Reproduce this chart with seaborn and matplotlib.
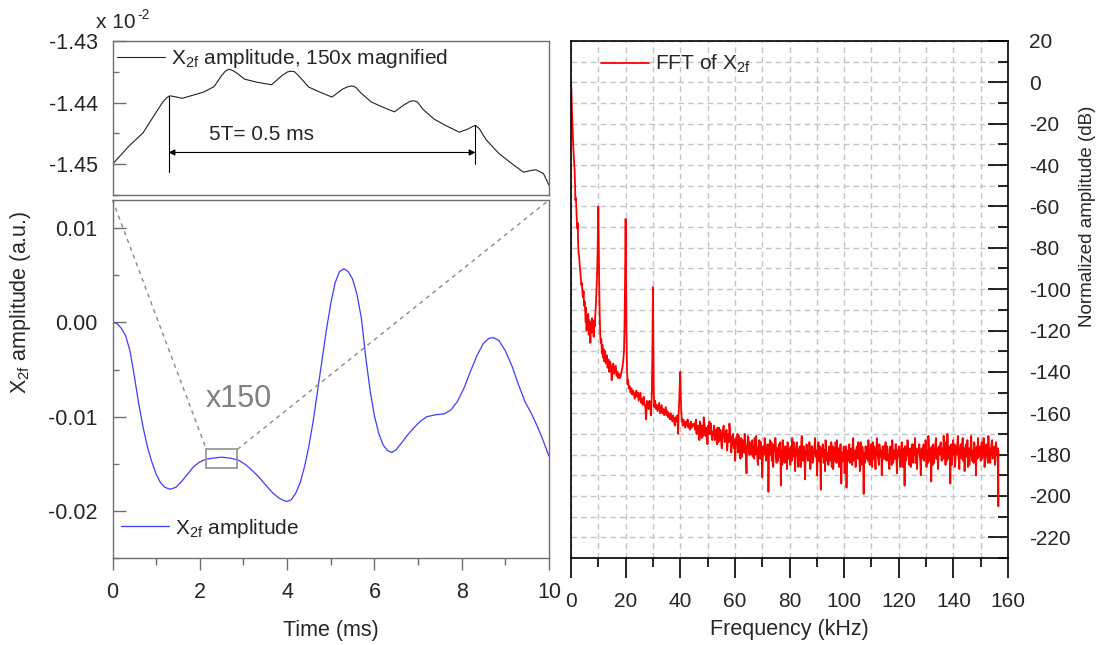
import numpy as np
import pandas as pd
import matplotlib
matplotlib.use('Agg')
import matplotlib.pyplot as plt
import seaborn as sns
from matplotlib.ticker import MultipleLocator, FuncFormatter
from matplotlib.patches import Rectangle

# ---------------- data ----------------
# main X2f amplitude trace (time in ms, amplitude a.u.)
time_ms = [0.00, 0.10, 0.20, 0.30, 0.40, 0.50, 0.60, 0.70, 0.80, 0.90,
           1.00, 1.10, 1.20, 1.32, 1.45, 1.58, 1.72, 1.86, 2.00, 2.15,
           2.30, 2.50, 2.70, 2.88, 3.05, 3.20, 3.35, 3.50, 3.65, 3.80,
           3.92, 4.00, 4.10, 4.20, 4.30, 4.40, 4.50, 4.60, 4.70, 4.80,
           4.90, 5.00, 5.10, 5.20, 5.30, 5.40, 5.50, 5.60, 5.70, 5.80,
           5.90, 6.00, 6.10, 6.20, 6.30, 6.40, 6.50, 6.62, 6.75, 6.90,
           7.05, 7.20, 7.40, 7.60, 7.75, 7.90, 8.05, 8.20, 8.35, 8.50,
           8.62, 8.72, 8.85, 9.00, 9.15, 9.30, 9.45, 9.60, 9.75, 9.88, 10.00]
x2f_amp = [0.0000, -0.0001, -0.0006, -0.0014, -0.0030, -0.0057, -0.0086, -0.0111, -0.0132, -0.0148,
           -0.0161, -0.0170, -0.0175, -0.0177, -0.0175, -0.0169, -0.0161, -0.0153, -0.0148, -0.0145,
           -0.0144, -0.0143, -0.0144, -0.0146, -0.0151, -0.0157, -0.0164, -0.0172, -0.0180, -0.0186,
           -0.0189, -0.0190, -0.0188, -0.0181, -0.0170, -0.0153, -0.0131, -0.0104, -0.0072, -0.0040,
           -0.0008, 0.0020, 0.0042, 0.0054, 0.0057, 0.0054, 0.0046, 0.0030, 0.0005, -0.0036,
           -0.0072, -0.0099, -0.0118, -0.0130, -0.0136, -0.0138, -0.0135, -0.0128, -0.0120, -0.0112,
           -0.0105, -0.0100, -0.0098, -0.0097, -0.0093, -0.0084, -0.0070, -0.0052, -0.0035, -0.0022,
           -0.0017, -0.0016, -0.0019, -0.0030, -0.0046, -0.0066, -0.0084, -0.0097, -0.0112, -0.0127, -0.0142]

# magnified detail (time in ms, amplitude in units of 1e-2)
inset_time = [2.150, 2.176, 2.199, 2.216, 2.230, 2.237, 2.242, 2.248, 2.262, 2.279, 2.296, 2.313,
              2.325, 2.331, 2.336, 2.341, 2.348, 2.362, 2.382, 2.405, 2.422, 2.431, 2.437, 2.442,
              2.448, 2.465, 2.485, 2.502, 2.519, 2.528, 2.534, 2.540, 2.548, 2.565, 2.585, 2.602,
              2.617, 2.627, 2.633, 2.639, 2.648, 2.666, 2.686, 2.706, 2.720, 2.727, 2.732, 2.738,
              2.749, 2.769, 2.789, 2.809, 2.822, 2.829, 2.841, 2.850]
inset_amp = [-1.4500, -1.4471, -1.4449, -1.4422, -1.4400, -1.4392, -1.4389, -1.4390, -1.4393, -1.4388,
             -1.4383, -1.4374, -1.4356, -1.4349, -1.4346, -1.4347, -1.4351, -1.4362, -1.4367, -1.4371,
             -1.4356, -1.4350, -1.4349, -1.4350, -1.4356, -1.4375, -1.4384, -1.4391, -1.4378, -1.4374,
             -1.4373, -1.4375, -1.4384, -1.4399, -1.4408, -1.4415, -1.4404, -1.4398, -1.4397, -1.4399,
             -1.4411, -1.4427, -1.4438, -1.4448, -1.4443, -1.4439, -1.4437, -1.4442, -1.4460, -1.4482,
             -1.4498, -1.4513, -1.4510, -1.4509, -1.4515, -1.4534]

# FFT of X2f, low-frequency part (kHz, dB)
fft_freq_low = [0.0, 0.15, 0.3, 0.5, 0.7, 0.9, 1.1, 1.3, 1.5, 1.6, 1.8, 1.9, 2.0, 2.2, 2.4, 2.5, 2.6, 2.8,
                3.0, 3.2, 3.4, 3.6, 3.8, 4.0, 4.2, 4.4, 4.6, 4.8, 5.0, 5.2, 5.4, 5.5, 5.7, 5.9, 6.1, 6.3,
                6.5, 6.7, 6.9, 7.1, 7.3, 7.5, 7.7, 7.9, 8.1, 8.3, 8.5, 8.7, 8.9, 9.1, 9.3, 9.5, 9.7, 9.85,
                10.0, 10.15, 10.3, 10.5, 10.7, 10.9, 11.1, 11.3, 11.5, 11.7, 11.9, 12.2, 12.5, 12.8, 13.1,
                13.4, 13.7, 14.0, 14.3, 14.6, 14.9, 15.2, 15.5, 15.8, 16.1, 16.4, 16.7, 17.0, 17.3, 17.6,
                17.9, 18.2, 18.5, 18.8, 19.1, 19.4, 19.6, 19.8, 20.0, 20.15, 20.3, 20.5, 20.7, 20.9, 21.2,
                21.5, 21.8, 22.1, 22.4, 22.7, 23.0, 23.3, 23.6, 23.9, 24.2, 24.5, 24.8, 25.1, 25.4, 25.7,
                26.0, 26.3, 26.6, 26.9, 27.2, 27.5, 27.8, 28.1, 28.4, 28.7, 29.0, 29.3, 29.6, 29.8, 30.0,
                30.15, 30.3, 30.5, 30.8, 31.1, 31.4, 31.7, 32.0, 32.3, 32.6, 32.9, 33.2, 33.5, 33.8, 34.1,
                34.4, 34.7, 35.0, 35.3, 35.6, 35.9, 36.2, 36.5, 36.8, 37.1, 37.4, 37.7, 38.0, 38.3, 38.6,
                38.9, 39.2, 39.4, 39.6, 39.8, 40.0, 40.2, 40.4, 40.6, 40.9, 41.2, 41.5, 41.8, 42.1, 42.4,
                42.7, 43.0, 43.3, 43.6, 43.9, 44.2, 44.5, 44.8]
fft_db_low = [0, -5, -12, -20, -27, -33, -38, -42, -50, -57, -56, -59, -63, -69, -71, -68, -78, -83,
              -84, -89, -91, -95, -98, -97, -102, -104, -101, -108, -106, -111, -116, -109, -120, -113, -118, -112,
              -122, -115, -119, -126, -116, -121, -114, -120, -117, -123, -115, -118, -112, -108, -101, -95, -85, -72,
              -60, -78, -95, -112, -122, -126, -124, -131, -127, -133, -129, -135, -130, -136, -132,
              -138, -134, -140, -135, -137, -144, -138, -136, -141, -139, -137, -142, -140, -143, -141,
              -143, -142, -140, -138, -135, -130, -118, -95, -66, -90, -120, -138, -146, -144, -148,
              -147, -150, -148, -151, -149, -150, -153, -151, -149, -152, -150, -154, -152, -150, -155,
              -153, -156, -152, -155, -157, -163, -154, -156, -158, -154, -157, -161, -150, -130, -99,
              -125, -150, -157, -154, -158, -156, -159, -157, -155, -160, -158, -156, -160, -158, -161,
              -159, -157, -161, -159, -162, -160, -163, -160, -162, -164, -161, -163, -166, -162, -164,
              -161, -170, -160, -155, -148, -140, -152, -160, -163, -166, -163, -165, -167, -164, -166,
              -163, -167, -165, -168, -164, -167, -166, -165]

# FFT noise floor, 45 - 156.3 kHz (dB), two interleaved evenly sampled series
fft_db_noise_a = [
    -165, -168, -163, -167, -170, -166, -164, -169, -172, -167, -162, -166, -171, -168, -175, -167, -164, -170, -168, -173,
    -170, -166, -172, -168, -175, -171, -167, -173, -170, -177, -169, -166, -174, -171, -168, -176, -172, -165, -173, -179,
    -174, -170, -177, -183, -172, -175, -179, -171, -176, -174, -181, -173, -177, -170, -178, -189, -175, -172, -180, -176,
    -179, -173, -176, -182, -178, -171, -177, -185, -175, -180, -174, -178, -183, -176, -172, -179, -181, -175, -198, -177,
    -180, -174, -179, -186, -176, -172, -181, -177, -183, -175, -179, -195, -178, -173, -180, -184, -176, -179, -174, -182,
    -177, -185, -179, -172, -181, -176, -188, -178, -174, -183, -179, -176, -186, -171, -180, -177, -184, -179, -175, -182,
    -178, -174, -187, -180, -176, -183, -179, -172, -181, -190, -177, -183, -176, -197, -180, -175, -184, -178, -173, -181,
    -179, -185, -176, -182, -174, -180, -187, -177, -183, -179, -173, -181, -186, -178, -175, -184, -180, -176, -189, -179,
    -196, -178, -183, -175, -181, -177, -185, -172, -180, -178, -184, -176, -182, -179, -188, -174, -181, -177, -199, -183,
    -176, -182, -178, -173, -184, -179, -175, -186, -180, -176, -183, -178, -172, -181, -185, -177, -180, -190, -176, -182,
    -179, -174, -183, -177, -181, -187, -176, -180, -173, -184, -178, -182, -175, -189, -179, -176, -183, -180, -174, -186,
    -178, -195, -176, -182, -173, -180, -185, -177, -181, -175, -184, -179, -172, -183, -187, -178, -176, -181, -190, -177,
    -182, -175, -180, -173, -186, -178, -171, -183, -177, -193, -180, -175, -184, -179, -172, -181, -187, -176, -180, -174,
    -183, -177, -171, -180, -185, -176, -170, -182, -178, -194, -175, -181, -173, -179, -186, -176, -180, -171, -184, -178,
    -175, -182, -172, -179, -188, -176, -181, -173, -178, -185, -177, -171, -183, -179, -174, -180, -190, -176, -172, -181,
    -177, -183, -174, -180, -172, -186, -178, -175, -182, -171, -179, -184, -176, -173, -181, -178, -185, -174, -179, -177]
fft_db_noise_b = [
    -167, -164, -170, -166, -168, -173, -165, -169, -166, -171, -164, -169, -167, -172, -166, -170, -168, -165, -171, -169,
    -168, -173, -169, -171, -167, -174, -170, -168, -175, -172, -167, -171, -173, -169, -178, -170, -174, -168, -171, -175,
    -171, -176, -173, -179, -175, -170, -178, -174, -182, -172, -177, -175, -179, -173, -184, -176, -171, -178, -174, -180,
    -175, -181, -177, -172, -180, -176, -183, -178, -173, -182, -177, -191, -176, -180, -174, -183, -178, -176, -181, -173,
    -177, -183, -175, -180, -178, -172, -184, -179, -176, -181, -174, -179, -185, -177, -182, -176, -180, -187, -175, -179,
    -181, -176, -183, -178, -174, -180, -182, -175, -179, -186, -177, -181, -174, -179, -183, -176, -192, -180, -177, -183,
    -180, -177, -182, -176, -184, -179, -175, -181, -178, -183, -174, -180, -185, -177, -181, -176, -179, -188, -176, -183,
    -181, -177, -183, -179, -186, -176, -181, -178, -174, -184, -180, -177, -182, -175, -194, -179, -183, -177, -181, -176,
    -182, -179, -176, -184, -178, -181, -175, -183, -179, -186, -177, -180, -174, -182, -178, -185, -176, -181, -179, -184,
    -180, -176, -183, -178, -185, -177, -181, -174, -182, -179, -187, -176, -180, -183, -175, -181, -178, -184, -179, -176,
    -182, -178, -176, -181, -184, -177, -179, -185, -176, -182, -180, -175, -183, -178, -181, -176, -186, -179, -182, -177,
    -180, -176, -183, -178, -174, -181, -179, -186, -177, -182, -175, -180, -184, -177, -181, -179, -175, -183, -178, -180,
    -177, -183, -179, -175, -181, -184, -176, -179, -182, -176, -185, -178, -180, -174, -182, -177, -183, -179, -175, -181,
    -178, -182, -175, -179, -174, -183, -178, -176, -181, -179, -185, -177, -180, -175, -182, -178, -174, -181, -187, -176,
    -179, -176, -183, -177, -181, -175, -180, -186, -177, -182, -176, -180, -178, -184, -175, -181, -177, -182, -179, -176,
    -180, -176, -182, -178, -175, -183, -177, -180, -184, -176, -181, -178, -174, -182, -179, -176, -183, -177, -180, -178]
fft_freq_end = [156.45]
fft_db_end = [-205]

# zoom window drawn on the main trace
zoom_t0, zoom_t1 = 2.15, 2.86
zoom_v0, zoom_v1 = -0.01548, -0.01347

# ---------------- style ----------------
sns.set_style('white')
plt.rcParams['font.family'] = ['Liberation Sans', 'DejaVu Sans']
plt.rcParams['mathtext.fontset'] = 'custom'
plt.rcParams['mathtext.rm'] = 'Liberation Sans'
plt.rcParams['mathtext.it'] = 'Liberation Sans:italic'
plt.rcParams['mathtext.bf'] = 'Liberation Sans:bold'
plt.rcParams['axes.unicode_minus'] = False

W, H = 1106, 645
fig = plt.figure(figsize=(W / 100, H / 100), dpi=100)


def rect(x0, y0, x1, y1):
    return [x0 / W, 1 - y1 / H, (x1 - x0) / W, (y1 - y0) / H]


ax_in = fig.add_axes(rect(112.5, 41, 549, 195))
ax_m = fig.add_axes(rect(112.5, 200, 549, 558))
ax_f = fig.add_axes(rect(571, 41, 1008, 558))

X2F = r'X$_\mathregular{2f}$'
GRAY = '#6e6e6e'

# ---------------- main trace ----------------
df_main = pd.DataFrame({'t': time_ms, 'v': x2f_amp})
sns.lineplot(data=df_main, x='t', y='v', ax=ax_m, color='#3d3dff', lw=0.9,
             estimator=None, sort=False, label=X2F + ' amplitude')
ax_m.set_xlim(0, 10)
ax_m.set_ylim(-0.025, 0.013)
ax_m.xaxis.set_major_locator(MultipleLocator(2))
ax_m.xaxis.set_minor_locator(MultipleLocator(1))
ax_m.yaxis.set_major_locator(MultipleLocator(0.01))
ax_m.yaxis.set_minor_locator(MultipleLocator(0.005))
ax_m.yaxis.set_major_formatter(FuncFormatter(lambda v, p: ('%.2f' % v).replace('-0.00', '0.00')))
ax_m.tick_params(axis='y', which='major', direction='in', length=9, width=1, color=GRAY,
                 labelsize=15.5, pad=11)
ax_m.tick_params(axis='y', which='minor', direction='in', length=4.6, width=1, color=GRAY)
ax_m.tick_params(axis='x', which='major', direction='out', length=8.5, width=1, color=GRAY,
                 labelsize=15.5, pad=9)
ax_m.tick_params(axis='x', which='minor', direction='out', length=5, width=1, color=GRAY)
ax_m.tick_params(which='both', top=False, right=False, left=True, bottom=True)
for s in ax_m.spines.values():
    s.set_color(GRAY)
    s.set_linewidth(1)
ax_m.set_xlabel('Time (ms)', fontsize=15.5, labelpad=12)
ax_m.set_ylabel('')
fig.text(21 / W, 1 - 302 / H, X2F + ' amplitude (a.u.)', rotation=90, fontsize=15.5,
         ha='center', va='center')
ax_m.legend(loc='center left', bbox_to_anchor=((121 - 112.5) / 436.5, (558 - 528) / 358),
            frameon=False, fontsize=15, handlelength=2.3, handletextpad=0.3,
            borderaxespad=0, borderpad=0)

# zoom box, connectors and magnification label
ax_m.add_patch(Rectangle((zoom_t0, zoom_v0), zoom_t1 - zoom_t0, zoom_v1 - zoom_v0,
                         fill=False, ec='#999999', lw=1.3, zorder=3))
ylo, yhi = ax_m.get_ylim()
xlo, xhi = ax_m.get_xlim()
ax_m.plot([xlo, zoom_t0], [yhi, zoom_v1], color='#8a8a8a', lw=1, dashes=(3, 3), clip_on=False)
ax_m.plot([zoom_t1, xhi], [zoom_v1, yhi], color='#8a8a8a', lw=1, dashes=(3, 3), clip_on=False)
ax_m.text(2.89, -0.0081, 'x150', color='#808080', fontsize=22, ha='center', va='center')

# ---------------- magnified inset ----------------
df_in = pd.DataFrame({'t': inset_time, 'v': inset_amp})
sns.lineplot(data=df_in, x='t', y='v', ax=ax_in, color='#222222', lw=0.8,
             estimator=None, sort=False, label=X2F + ' amplitude, 150x magnified')
ax_in.set_xlim(zoom_t0, 2.85)
ax_in.set_ylim(-1.455, -1.43)
ax_in.set_xticks([])
ax_in.yaxis.set_major_locator(MultipleLocator(0.01))
ax_in.yaxis.set_minor_locator(MultipleLocator(0.005))
ax_in.yaxis.set_major_formatter(FuncFormatter(lambda v, p: '%.2f' % v))
ax_in.tick_params(axis='y', which='major', direction='in', length=9, width=1, color=GRAY,
                  labelsize=15.5, pad=10.5)
ax_in.tick_params(axis='y', which='minor', direction='in', length=4.6, width=1, color=GRAY)
ax_in.tick_params(which='both', left=True, right=False)
for s in ax_in.spines.values():
    s.set_color(GRAY)
    s.set_linewidth(1)
ax_in.set_xlabel('')
ax_in.set_ylabel('')
ax_in.legend(loc='center left', bbox_to_anchor=((117 - 112.5) / 436.5, (195 - 59) / 154),
             frameon=False, fontsize=15, handlelength=2.3, handletextpad=0.3,
             borderaxespad=0, borderpad=0)
ax_in.annotate('', xy=(2.240, -1.4481), xytext=(2.732, -1.4481),
               arrowprops=dict(arrowstyle='<|-|>', color='black', lw=0.8,
                               mutation_scale=9, shrinkA=0, shrinkB=0))
ax_in.plot([2.240, 2.240], [-1.4389, -1.4512], color='black', lw=0.8)
ax_in.plot([2.732, 2.732], [-1.4437, -1.4499], color='black', lw=0.8)
ax_in.text(2.304, -1.4452, '5T= 0.5 ms', fontsize=15, ha='left', va='center')
fig.text(96 / W, 1 - 23 / H, 'x 10', fontsize=15, ha='left', va='center')
fig.text(137 / W, 1 - 15 / H, '-2', fontsize=10, ha='left', va='center')

# ---------------- FFT ----------------
step = (156.3 - 45.1) / (len(fft_db_noise_a) - 1)
fft_freq_noise_a = np.linspace(45.1, 156.3, len(fft_db_noise_a))
fft_freq_noise_b = fft_freq_noise_a[:len(fft_db_noise_b)] + step / 2
df_fft = pd.DataFrame({
    'f': np.concatenate([fft_freq_low, fft_freq_noise_a, fft_freq_noise_b, fft_freq_end]),
    'db': np.concatenate([fft_db_low, fft_db_noise_a, fft_db_noise_b, fft_db_end]),
}).sort_values('f', kind='stable')
sns.lineplot(data=df_fft, x='f', y='db', ax=ax_f, color='#ff0000', lw=1.3,
             estimator=None, sort=False, label='FFT of ' + X2F)
ax_f.set_xlim(0, 160)
ax_f.set_ylim(-230, 20)
ax_f.xaxis.set_major_locator(MultipleLocator(20))
ax_f.xaxis.set_minor_locator(MultipleLocator(10))
ax_f.yaxis.set_major_locator(MultipleLocator(20))
ax_f.yaxis.set_minor_locator(MultipleLocator(10))
ax_f.grid(which='both', color='#c4c4c4', lw=1, ls=(0, (4, 3)))
ax_f.set_axisbelow(True)
ax_f.yaxis.tick_right()
ax_f.tick_params(axis='y', which='major', direction='in', length=14.5, width=1.2, color='black',
                 labelsize=15, pad=15, left=False, right=True)
ax_f.tick_params(axis='y', which='minor', direction='in', length=7, width=1.2, color='black',
                 left=False, right=True)
ax_f.tick_params(axis='x', which='major', direction='out', length=14.5, width=1.2, color='black',
                 labelsize=15, pad=10, top=False, bottom=True)
ax_f.tick_params(axis='x', which='minor', direction='out', length=6.5, width=1.2, color='black',
                 top=False, bottom=True)
for s in ax_f.spines.values():
    s.set_color('black')
    s.set_linewidth(1.2)
ax_f.set_xlabel('Frequency (kHz)', fontsize=15.5, labelpad=6)
ax_f.set_ylabel('')
fig.text(1088 / W, 1 - 216 / H, 'Normalized amplitude (dB)', rotation=90, fontsize=13.5,
         ha='center', va='center')
ax_f.legend(loc='center left', bbox_to_anchor=((601 - 571) / 437, (558 - 64) / 517),
            frameon=False, fontsize=15, handlelength=2.3, handletextpad=0.3,
            borderaxespad=0, borderpad=0)

fig.savefig('out.png', dpi=100)
